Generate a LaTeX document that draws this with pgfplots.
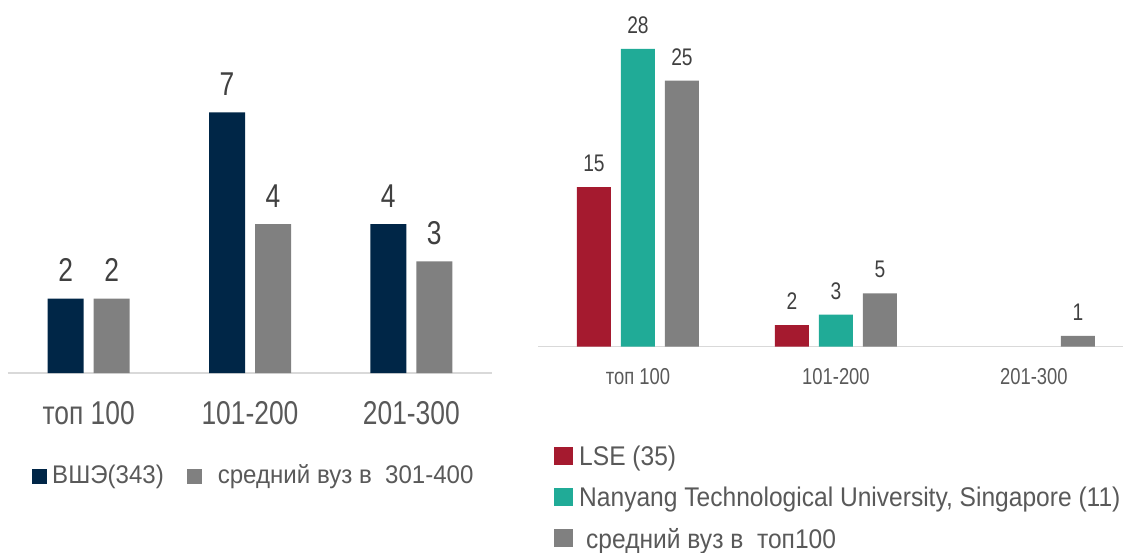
\documentclass[border=0pt]{standalone}
\usepackage{pgfplots}
\pgfplotsset{compat=1.18}
\usepackage{fontspec}
\setmainfont{Liberation Sans}[FakeStretch=0.8]
\newfontfamily\legfontA{Liberation Sans}[FakeStretch=0.944]
\newfontfamily\legfontB{Liberation Sans}[FakeStretch=0.91]
\definecolor{navy}{HTML}{002647}
\definecolor{bargray}{HTML}{808080}
\definecolor{lsered}{HTML}{A51A2F}
\definecolor{teal2}{HTML}{20AB97}
\definecolor{axgray}{HTML}{D9D9D9}
\definecolor{txtgray}{HTML}{595959}
\definecolor{valgray}{HTML}{404040}
\begin{document}
\begin{tikzpicture}[x=1pt,y=1pt]
\useasboundingbox (0,0) rectangle (1123,-552);
\begin{axis}[
  at={(8pt,-373pt)}, anchor=south west,
  scale only axis, width=484pt, height=298pt,
  xmin=-0.5, xmax=2.5, ymin=0, ymax=8,
  axis x line=bottom, axis y line=none,
  axis line style={draw=axgray, line width=1.5pt, -},
  xtick={0,1,2}, xticklabels={топ 100, 101-200, 201-300},
  major tick length=0pt,
  xticklabel style={anchor=base, yshift=-51pt, text=txtgray, font=\fontsize{33}{36}\selectfont},
  ytick=\empty,
  clip=false,
  ybar, bar width=36pt,
  nodes near coords,
  every node near coord/.append style={anchor=base, yshift=17pt, text=valgray, font=\fontsize{33}{36}\selectfont, inner sep=0pt},
  /pgf/number format/assume math mode=true,
  legend columns=2,
  legend style={at={(0.0496,-0.343)}, anchor=west, draw=none, fill=none, inner sep=0pt, cells={anchor=base west, inner sep=0pt}, font=\legfontA\fontsize{25.5}{28}\selectfont, text=txtgray, /tikz/every odd column/.style={column sep=3pt}, /tikz/every even column/.style={column sep=21pt}},
  legend image code/.code={\fill[#1] (0pt,0pt) rectangle (15pt,15pt);},
]
\addplot[fill=navy, draw=none, bar shift=-23pt] coordinates {(0,2) (1,7) (2,4)};
\addlegendentry{ВШЭ(343)}
\addplot[fill=bargray, draw=none, bar shift=23pt] coordinates {(0,2) (1,4) (2,3)};
\addlegendentry{\hspace{11pt}средний вуз в\ \ 301-400}
\end{axis}
\begin{axis}[
  at={(538pt,-346.5pt)}, anchor=south west,
  scale only axis, width=585pt, height=319pt,
  xmin=-0.505, xmax=2.45, ymin=0, ymax=30,
  axis x line=bottom, axis y line=none,
  axis line style={draw=axgray, line width=1.5pt, -},
  xtick={0,1,2}, xticklabels={топ 100, 101-200, 201-300},
  major tick length=0pt,
  xticklabel style={anchor=base, yshift=-38pt, text=txtgray, font=\fontsize{23}{26}\selectfont},
  ytick=\empty,
  clip=false,
  ybar, bar width=34pt,
  nodes near coords,
  every node near coord/.append style={anchor=base, yshift=15.5pt, text=valgray, font=\fontsize{24}{27}\selectfont, inner sep=0pt},
  /pgf/number format/assume math mode=true,
  legend columns=1,
  legend style={at={(0.02735,-0.305)}, anchor=north west, draw=none, fill=none, inner sep=0pt, cells={anchor=base west, inner sep=0pt}, row sep=16pt, font=\legfontB\fontsize{27}{30}\selectfont, text=txtgray, /tikz/every odd column/.style={column sep=4pt}},
  legend image code/.code={\fill[#1] (0pt,1pt) rectangle (19pt,19pt);},
]
\addplot[fill=lsered, draw=none, bar shift=-44pt] coordinates {(0,15) (1,2)};
\addlegendentry{LSE (35)}
\addplot[fill=teal2, draw=none, bar shift=0pt] coordinates {(0,28) (1,3)};
\addlegendentry{Nanyang Technological University, Singapore (11)}
\addplot[fill=bargray, draw=none, bar shift=44pt] coordinates {(0,25) (1,5) (2,1)};
\addlegendentry{\hspace{7pt}средний вуз в\ \ топ100}
\end{axis}
\end{tikzpicture}
\end{document}
